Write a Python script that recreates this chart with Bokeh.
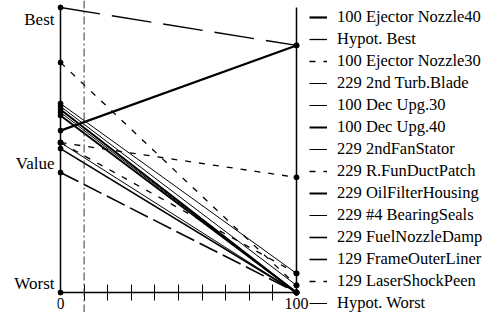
from bokeh.plotting import figure
from bokeh.models import Range1d, FixedTicker, Legend, LegendItem, Span
from bokeh.embed import file_html
from bokeh.resources import INLINE

# ---- data (Worst = 0, Best = 100) ----
series_names = [
    "100 Ejector Nozzle40", "Hypot. Best", "100 Ejector Nozzle30",
    "229 2nd Turb.Blade", "100 Dec Upg.30", "100 Dec Upg.40",
    "229 2ndFanStator", "229 R.FunDuctPatch", "229 OilFilterHousing",
    "229 #4 BearingSeals", "229 FuelNozzleDamp", "129 FrameOuterLiner",
    "129 LaserShockPeen", "Hypot. Worst",
]
left_values = [56.8, 100, 80.7, 66.3, 65.3, 64.2, 63.2, 52.6, 62.1, 52.6, 42.1, 50.5, 52.6, 0]
right_values = [86.7, 86.7, 2.5, 6.7, 2.5, 0, 0, 40.4, 0, 0, 0, 0, 6.7, 0]
x_positions = [0, 100]
x_tick_labels = {0: "0", 100: "100"}
x_minor_ticks = [10, 20, 30, 40, 50, 60, 70, 80, 90]
y_tick_labels = {95.8: "Best", 45.1: "Value", 3.0: "Worst"}
worst_value, best_value = 0, 100
marker_line = 10

# ---- styles ----
widths = [2.2, 1.3, 1.3, 1.0, 1.0, 2.0, 1.0, 1.3, 2.0, 1.0, 1.6, 1.6, 1.3, 1.0]
dashes = ["solid", "40 12", "6 8", "solid", "solid", "solid", "solid", "6 8",
          "solid", "solid", "20 6", "solid", "6 8", "solid"]

FONT = "Liberation Serif"

p = figure(width=483, height=312, output_backend="svg", toolbar_location=None,
           x_range=Range1d(-1.27, 179.24), y_range=Range1d(-7.02, 102.46),
           min_border_left=57, min_border_right=0, min_border_top=0, min_border_bottom=0)
p.outline_line_color = None
p.xgrid.visible = False
p.ygrid.visible = False
p.background_fill_color = "white"

# x axis, fixed at the "Worst" level
xa = p.xaxis[0]
xa.fixed_location = worst_value
xa.ticker = FixedTicker(ticks=list(x_tick_labels.keys()), minor_ticks=x_minor_ticks)
xa.major_label_overrides = x_tick_labels
xa.bounds = (0, 100)
xa.axis_line_width = 1.3
xa.axis_line_color = "black"
xa.major_tick_in = 0
xa.major_tick_out = 0
xa.minor_tick_in = 8
xa.minor_tick_out = 8
xa.minor_tick_line_color = "black"
xa.major_label_standoff = -2
xa.major_label_text_font = FONT
xa.major_label_text_font_size = "16px"
xa.major_label_text_color = "black"

# y axis
ya = p.yaxis[0]
ya.ticker = FixedTicker(ticks=list(y_tick_labels.keys()))
ya.major_label_overrides = y_tick_labels
ya.axis_line_color = None
ya.major_tick_line_color = None
ya.minor_tick_line_color = None
ya.major_tick_in = 0
ya.major_tick_out = 0
ya.major_label_standoff = 3
ya.major_label_text_font = FONT
ya.major_label_text_font_size = "17px"
ya.major_label_text_color = "black"

# vertical axis lines (Worst..Best) and marker line
p.segment(x0=x_positions, x1=x_positions, y0=[worst_value] * 2, y1=[best_value] * 2,
          line_color="black", line_width=1.5)
p.add_layout(Span(location=marker_line, dimension="height", line_color="#333333",
                  line_width=1, line_dash="8 3 2 3"))

items = []
for name, lv, rv, w, d in zip(series_names, left_values, right_values, widths, dashes):
    r = p.line(x_positions, [lv, rv], line_color="black", line_width=w, line_dash=d)
    items.append(LegendItem(label=name, renderers=[r]))

all_x = [0] * len(left_values) + [100] * len(right_values)
all_y = list(left_values) + list(right_values)
p.scatter(all_x, all_y, size=5, color="black")

legend = Legend(items=items, location=(252, -2), padding=0, spacing=0,
                glyph_width=18, glyph_height=22, label_height=22, label_standoff=10,
                label_text_font=FONT, label_text_font_size="16.5px", label_text_color="black",
                border_line_color=None, background_fill_alpha=0, margin=0)
p.add_layout(legend)

open("out.html", "w").write(file_html(p, INLINE))
